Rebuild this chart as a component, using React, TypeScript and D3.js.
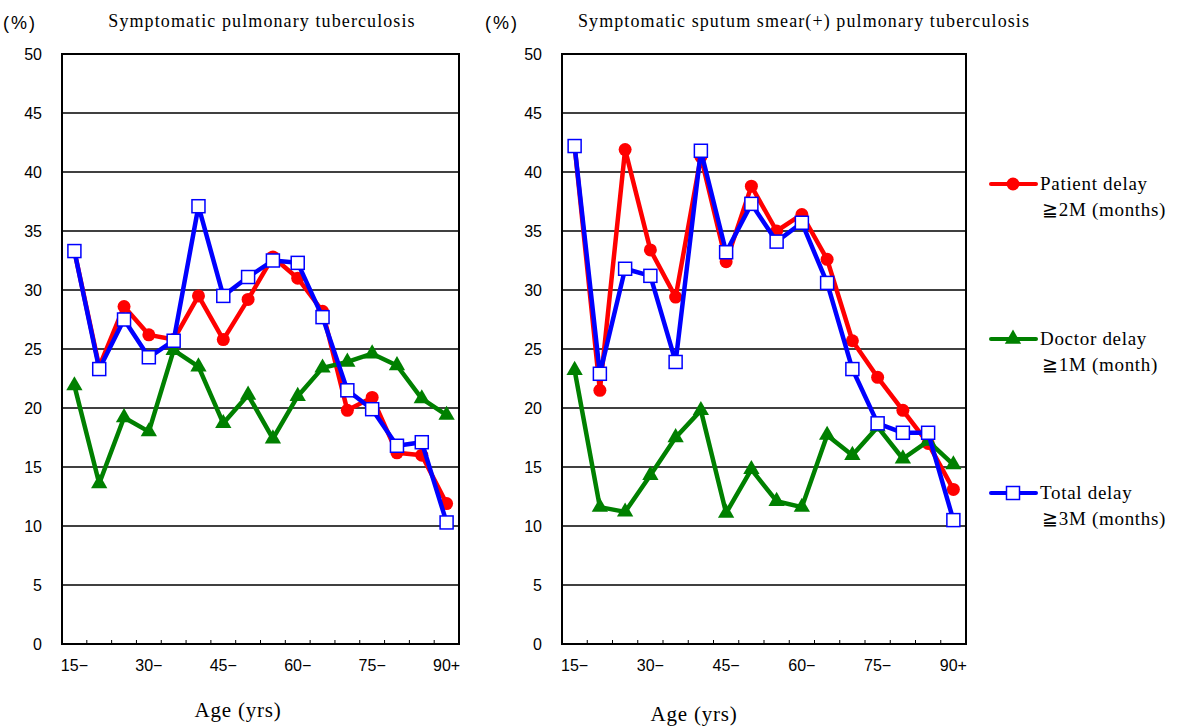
import * as d3 from 'd3';
import React, { useEffect, useRef } from 'react';

const ageGroups = ["15", "20", "25", "30", "35", "40", "45", "50", "55", "60", "65", "70", "75", "80", "85", "90"];
const tickLabels: Record<string, string> = { "15": "15−", "30": "30−", "45": "45−", "60": "60−", "75": "75−", "90": "90+" };
const yTicks = [0, 5, 10, 15, 20, 25, 30, 35, 40, 45, 50];

// left: symptomatic pulmonary TB
const patientAll = [33.3, 23.5, 28.6, 26.2, 25.8, 29.5, 25.8, 29.2, 32.8, 31.0, 28.2, 19.8, 20.9, 16.2, 16.0, 11.9];
const doctorAll = [21.9, 13.6, 19.2, 18.0, 24.9, 23.5, 18.7, 21.1, 17.4, 21.0, 23.4, 23.9, 24.6, 23.6, 20.8, 19.4];
const totalAll = [33.3, 23.3, 27.5, 24.3, 25.7, 37.1, 29.5, 31.1, 32.5, 32.3, 27.7, 21.5, 19.9, 16.8, 17.1, 10.3];

// right: sputum smear(+)
const patientSmear = [42.2, 21.5, 41.9, 33.4, 29.4, 41.3, 32.4, 38.8, 35.0, 36.4, 32.6, 25.7, 22.6, 19.8, 17.0, 13.1];
const doctorSmear = [23.2, 11.6, 11.2, 14.3, 17.5, 19.8, 11.1, 14.8, 12.1, 11.6, 17.7, 16.0, 18.4, 15.7, 17.2, 15.2];
const totalSmear = [42.2, 22.9, 31.8, 31.2, 23.9, 41.8, 33.2, 37.3, 34.1, 35.7, 30.6, 23.3, 18.7, 17.9, 17.9, 10.5];

const seriesNames = [
  ["Patient delay", "≧2M (months)"],
  ["Doctor delay", "≧1M (month)"],
  ["Total delay", "≧3M (months)"],
];
const seriesColors = ["#ff0000", "#008000", "#0000ff"];

const serif = "'Liberation Serif', 'Times New Roman', serif";
const sans = "'Liberation Sans', Arial, sans-serif";

type Panel = {
  left: number; right: number; title: string; titleX: number; pctX: number; xTitleX: number; xTitleY: number;
  patient: number[]; doctor: number[]; total: number[];
};

const panels: Panel[] = [
  { left: 62, right: 459, title: "Symptomatic pulmonary tuberculosis", titleX: 262, pctX: 20, xTitleX: 238, xTitleY: 717, patient: patientAll, doctor: doctorAll, total: totalAll },
  { left: 562, right: 966, title: "Symptomatic sputum smear(+) pulmonary  tuberculosis", titleX: 804, pctX: 502, xTitleX: 694, xTitleY: 721, patient: patientSmear, doctor: doctorSmear, total: totalSmear },
];

export default function App() {
  const svgRef = useRef<SVGSVGElement>(null);

  useEffect(() => {
    const svg = d3.select(svgRef.current);
    svg.selectAll("*").remove();
    svg.append("rect").attr("width", 1179).attr("height", 728).attr("fill", "white");

    const y = d3.scaleLinear().domain([0, 50]).range([644, 54]);

    const drawMarker = (g: any, kind: number, cx: number, cy: number) => {
      if (kind === 0) {
        g.append("circle").attr("cx", cx).attr("cy", cy).attr("r", 6.5).attr("fill", seriesColors[0]);
      } else if (kind === 1) {
        g.append("path")
          .attr("d", d3.symbol(d3.symbolTriangle, 115)())
          .attr("transform", `translate(${cx},${cy})`)
          .attr("fill", seriesColors[1]);
      } else {
        g.append("rect").attr("x", cx - 6.5).attr("y", cy - 6.5).attr("width", 13).attr("height", 13)
          .attr("fill", "white").attr("stroke", seriesColors[2]).attr("stroke-width", 1.5);
      }
    };

    panels.forEach(p => {
      const x = d3.scaleBand().domain(ageGroups).range([p.left, p.right]);
      const cx = (a: string) => (x(a) as number) + x.bandwidth() / 2;
      const g = svg.append("g");

      // grid
      g.selectAll("line.grid").data(yTicks.filter(t => t > 0 && t < 50)).join("line")
        .attr("x1", p.left).attr("x2", p.right)
        .attr("y1", d => y(d)).attr("y2", d => y(d))
        .attr("stroke", "black").attr("stroke-width", 1.5);
      g.append("rect").attr("x", p.left).attr("y", y(50)).attr("width", p.right - p.left).attr("height", y(0) - y(50))
        .attr("fill", "none").attr("stroke", "black").attr("stroke-width", 2);

      // x ticks (inward)
      g.selectAll("line.xt").data(ageGroups.slice(1)).join("line")
        .attr("x1", d => x(d) as number).attr("x2", d => x(d) as number)
        .attr("y1", y(0)).attr("y2", y(0) - 4)
        .attr("stroke", "black").attr("stroke-width", 1);

      // y labels
      g.selectAll("text.yl").data(yTicks).join("text")
        .attr("x", p.left - 20).attr("y", d => y(d) + 6)
        .attr("text-anchor", "end").attr("font-family", sans).attr("font-size", 16)
        .text(d => d);

      // x labels
      g.selectAll("text.xl").data(ageGroups.filter(a => tickLabels[a])).join("text")
        .attr("x", d => cx(d)).attr("y", 671)
        .attr("text-anchor", "middle").attr("font-family", sans).attr("font-size", 16)
        .text(d => tickLabels[d]);

      g.append("text").attr("x", p.pctX).attr("y", 29).attr("text-anchor", "middle")
        .attr("font-family", sans).attr("font-size", 18).attr("letter-spacing", 2).text("(%)");
      g.append("text").attr("x", p.titleX).attr("y", 27).attr("text-anchor", "middle")
        .attr("font-family", serif).attr("font-size", 18).attr("letter-spacing", 1.1).text(p.title);
      g.append("text").attr("x", p.xTitleX).attr("y", p.xTitleY).attr("text-anchor", "middle")
        .attr("font-family", serif).attr("font-size", 21).attr("letter-spacing", 0.8).text("Age (yrs)");

      [p.patient, p.doctor, p.total].forEach((vals, k) => {
        const line = d3.line<number>().x((_, i) => cx(ageGroups[i])).y(d => y(d));
        g.append("path").attr("d", line(vals)).attr("fill", "none")
          .attr("stroke", seriesColors[k]).attr("stroke-width", 4.5).attr("stroke-linejoin", "round");
        const mg = g.append("g");
        vals.forEach((v, i) => drawMarker(mg, k, cx(ageGroups[i]), y(v)));
      });
    });

    // legend
    const legendY = [184, 339, 493];
    seriesNames.forEach((names, k) => {
      const lg = svg.append("g");
      lg.append("line").attr("x1", 991).attr("x2", 1036).attr("y1", legendY[k]).attr("y2", legendY[k])
        .attr("stroke", seriesColors[k]).attr("stroke-width", 4).attr("stroke-linecap", "round");
      drawMarker(lg, k, 1013, legendY[k]);
      lg.append("text").attr("x", 1040).attr("y", legendY[k] + 6)
        .attr("font-family", serif).attr("font-size", 19).attr("letter-spacing", 0.7).text(names[0]);
      lg.append("text").attr("x", 1042).attr("y", legendY[k] + 32)
        .attr("font-family", serif).attr("font-size", 19).attr("letter-spacing", 0.7).text(names[1]);
    });
  }, []);

  return (
    <svg ref={svgRef} width={1179} height={728} style={{ position: "absolute", left: 0, top: 0 }} />
  );
}
